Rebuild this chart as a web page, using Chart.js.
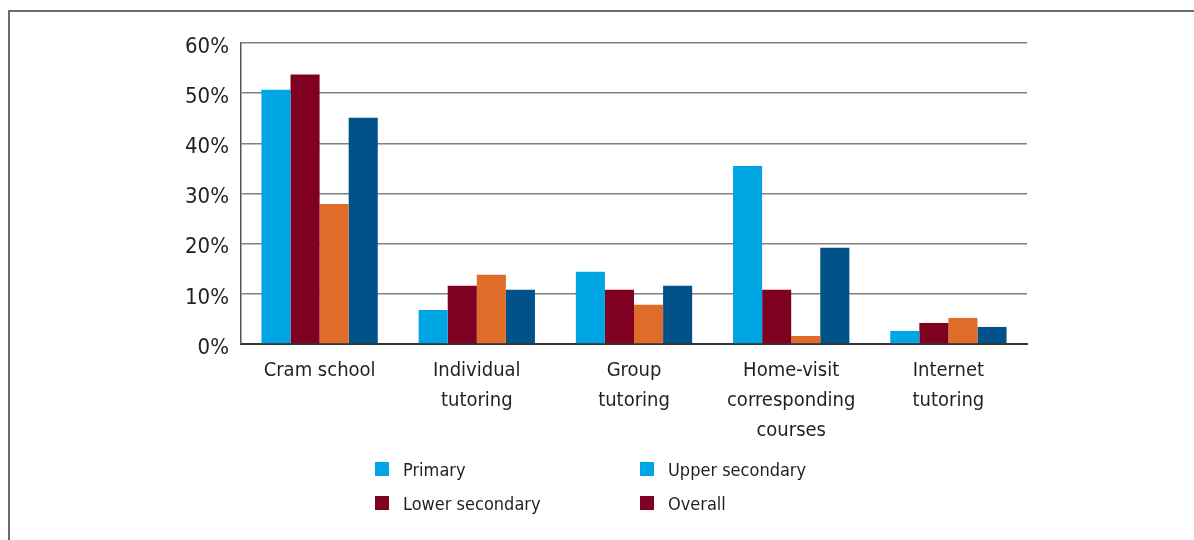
<!DOCTYPE html>
<html>
<head>
<meta charset="utf-8">
<script src="https://cdn.jsdelivr.net/npm/chart.js@4/dist/chart.umd.min.js"></script>
<style>
  html, body { margin: 0; padding: 0; background: #fff; }
  #wrap { width: 1194px; height: 540px; position: relative; }
</style>
</head>
<body>
<div id="wrap"><canvas id="chart" width="1194" height="540"></canvas></div>
<script>
// categories and series (percent)
const categories = [
    'Cram school',
    ['Individual', 'tutoring'],
    ['Group', 'tutoring'],
    ['Home-visit', 'corresponding', 'courses'],
    ['Internet', 'tutoring']
];
const seriesNames = ['Primary', 'Lower secondary', 'Upper secondary', 'Overall'];
const primary        = [50.7, 6.8, 14.4, 35.5, 2.6];
const lowerSecondary = [53.7, 11.6, 10.8, 10.8, 4.2];
const upperSecondary = [27.9, 13.8, 7.8, 1.6, 5.2];
const overall        = [45.1, 10.8, 11.6, 19.2, 3.4];
const yTicks = [0, 10, 20, 30, 40, 50, 60];

const barColors = ['#00a5e3', '#800022', '#e06c2a', '#005288'];
// legend swatches as printed in the figure
const legendColors = ['#00a5e3', '#800022', '#00a5e3', '#800022'];

const FONT = "'Liberation Sans Narrow', 'DejaVu Sans Condensed', 'Arial Narrow', sans-serif";
const TEXT = '#231f20';

// frame around the figure (top and left edges only)
const framePlugin = {
    id: 'frame',
    beforeDraw(chart) {
        const ctx = chart.ctx;
        ctx.save();
        ctx.strokeStyle = '#6b6b6b';
        ctx.lineWidth = 2;
        ctx.beginPath();
        ctx.moveTo(9, 540);
        ctx.lineTo(9, 11);
        ctx.lineTo(1194, 11);
        ctx.stroke();
        ctx.restore();
    }
};

// two column legend under the plot
const legendPlugin = {
    id: 'twoColLegend',
    afterDraw(chart) {
        const ctx = chart.ctx;
        const order = [0, 2, 1, 3]; // Primary, Upper / Lower, Overall
        ctx.save();
        ctx.font = '18px ' + FONT;
        ctx.textBaseline = 'middle';
        order.forEach((di, i) => {
            const col = i % 2, row = Math.floor(i / 2);
            const bx = col === 0 ? 375 : 640;
            const by = 462 + row * 34;
            ctx.fillStyle = legendColors[di];
            ctx.fillRect(bx, by, 14, 14);
            ctx.fillStyle = TEXT;
            ctx.fillText(seriesNames[di], bx + 28, by + 9);
        });
        ctx.restore();
    }
};

const datasets = [primary, lowerSecondary, upperSecondary, overall].map((vals, i) => ({
    label: seriesNames[i],
    data: vals,
    backgroundColor: barColors[i],
    borderWidth: 0,
    categoryPercentage: 0.74,
    barPercentage: 1.0
}));

const ctx = document.getElementById('chart').getContext('2d');
const myChart = new Chart(ctx, {
    type: 'bar',
    data: { labels: categories, datasets: datasets },
    options: {
        responsive: false,
        animation: false,
        layout: { padding: { top: 43, right: 167, bottom: 0, left: 0 } },
        plugins: {
            legend: { display: false },
            tooltip: { enabled: false }
        },
        scales: {
            x: {
                grid: { display: false },
                border: { display: true, color: '#333', width: 2 },
                ticks: {
                    color: TEXT,
                    font: { family: FONT, size: 20, lineHeight: 1.5 },
                    padding: 4,
                    maxRotation: 0,
                    autoSkip: false
                },
                afterFit(scale) { scale.height = 196; }
            },
            y: {
                min: 0,
                max: 60,
                afterBuildTicks(scale) { scale.ticks = yTicks.map(v => ({ value: v })); },
                grid: { color: '#808080', lineWidth: 1.6, drawTicks: false },
                border: { display: true, color: '#555', width: 1.5 },
                ticks: {
                    color: TEXT,
                    font: { family: FONT, size: 22 },
                    padding: 12,
                    labelOffset: 4,
                    callback: v => v + '%'
                },
                afterFit(scale) { scale.width = 241; }
            }
        }
    },
    plugins: [framePlugin, legendPlugin]
});
</script>
</body>
</html>
